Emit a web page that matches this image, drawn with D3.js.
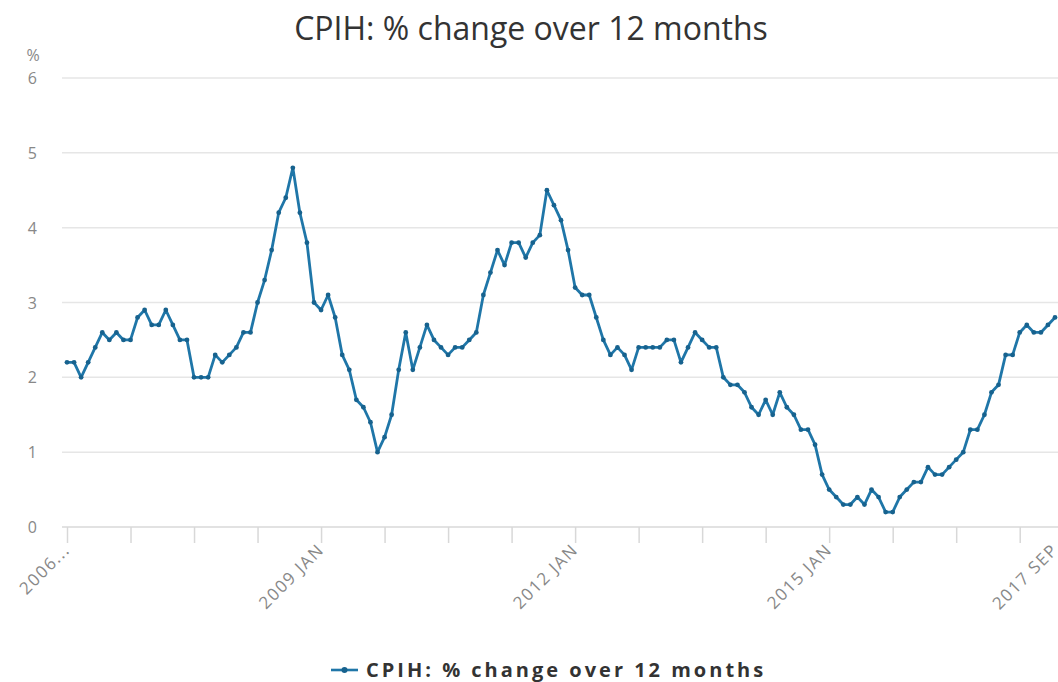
<!DOCTYPE html>
<html lang="en">
<head>
<meta charset="UTF-8">
<title>CPIH</title>
<script src="https://cdn.jsdelivr.net/npm/d3@7"></script>
<style>
    body { margin: 0; background: #fff; }
    svg { font-family: "Open Sans", "DejaVu Sans", sans-serif; }
</style>
</head>
<body>
<svg id="chart" width="1058" height="682"></svg>
<script>
    // CPIH 12-month rate, monthly from 2006 JAN to 2017 SEP
    var startYear = 2006;
    var months = ["JAN", "FEB", "MAR", "APR", "MAY", "JUN", "JUL", "AUG", "SEP", "OCT", "NOV", "DEC"];
    var values = [
        2.2, 2.2, 2.0, 2.2, 2.4, 2.6, 2.5, 2.6, 2.5, 2.5,
        2.8, 2.9, 2.7, 2.7, 2.9, 2.7, 2.5, 2.5, 2.0, 2.0,
        2.0, 2.3, 2.2, 2.3, 2.4, 2.6, 2.6, 3.0, 3.3, 3.7,
        4.2, 4.4, 4.8, 4.2, 3.8, 3.0, 2.9, 3.1, 2.8, 2.3,
        2.1, 1.7, 1.6, 1.4, 1.0, 1.2, 1.5, 2.1, 2.6, 2.1,
        2.4, 2.7, 2.5, 2.4, 2.3, 2.4, 2.4, 2.5, 2.6, 3.1,
        3.4, 3.7, 3.5, 3.8, 3.8, 3.6, 3.8, 3.9, 4.5, 4.3,
        4.1, 3.7, 3.2, 3.1, 3.1, 2.8, 2.5, 2.3, 2.4, 2.3,
        2.1, 2.4, 2.4, 2.4, 2.4, 2.5, 2.5, 2.2, 2.4, 2.6,
        2.5, 2.4, 2.4, 2.0, 1.9, 1.9, 1.8, 1.6, 1.5, 1.7,
        1.5, 1.8, 1.6, 1.5, 1.3, 1.3, 1.1, 0.7, 0.5, 0.4,
        0.3, 0.3, 0.4, 0.3, 0.5, 0.4, 0.2, 0.2, 0.4, 0.5,
        0.6, 0.6, 0.8, 0.7, 0.7, 0.8, 0.9, 1.0, 1.3, 1.3,
        1.5, 1.8, 1.9, 2.3, 2.3, 2.6, 2.7, 2.6, 2.6, 2.7, 2.8
    ];
    var yTicks = [0, 1, 2, 3, 4, 5, 6];
    var xTickIdx = [0, 9, 18, 27, 36, 45, 54, 63, 72, 81, 90, 99, 108, 117, 126, 135];
    var xLabelIdx = [0, 36, 72, 108, 140];
    var title = "CPIH: % change over 12 months";
    var seriesName = "CPIH: % change over 12 months";

    var labels = values.map(function (v, i) {
        return (startYear + Math.floor(i / 12)) + " " + months[i % 12];
    });

    var svg = d3.select("#chart");
    var blue = "#1f76a8";

    var x = d3.scaleLinear().domain([0, values.length - 1]).range([67, 1055]);
    var y = d3.scaleLinear().domain([0, 6]).range([527, 78]);

    // title
    svg.append("text")
        .attr("x", 531).attr("y", 40)
        .attr("text-anchor", "middle")
        .attr("font-size", 32)
        .attr("fill", "#333")
        .text(title);

    // grid
    svg.append("g").selectAll("line")
        .data(yTicks.filter(function (d) { return d > 0; }))
        .enter().append("line")
        .attr("x1", 62).attr("x2", 1058)
        .attr("y1", function (d) { return y(d); })
        .attr("y2", function (d) { return y(d); })
        .attr("stroke", "#e6e6e6").attr("stroke-width", 1.5);

    // y labels
    svg.append("g").selectAll("text")
        .data(yTicks)
        .enter().append("text")
        .attr("x", 37).attr("y", function (d) { return y(d) + 6; })
        .attr("text-anchor", "end")
        .attr("font-size", 16)
        .attr("fill", "#888")
        .text(function (d) { return d; });
    svg.append("text")
        .attr("x", 33).attr("y", 61)
        .attr("text-anchor", "middle")
        .attr("font-size", 16)
        .attr("fill", "#888")
        .text("%");

    // x axis
    var xAxis = d3.axisBottom(x)
        .tickValues(xTickIdx)
        .tickSize(16)
        .tickFormat("");
    var gx = svg.append("g").attr("transform", "translate(0,527)").call(xAxis);
    gx.select(".domain").attr("stroke", "#d8d8d8").attr("stroke-width", 1.5).attr("d", "M62,0H1058");
    gx.selectAll(".tick line").attr("stroke", "#d8d8d8").attr("stroke-width", 1.5);

    svg.append("g").selectAll("text")
        .data(xLabelIdx)
        .enter().append("text")
        .attr("transform", function (d) {
            return "translate(" + (x(d) + 4) + ",551) rotate(-45)";
        })
        .attr("text-anchor", "end")
        .attr("font-size", 17)
        .attr("letter-spacing", 1.5)
        .attr("fill", "#888")
        .text(function (d) { return d === 0 ? labels[d].slice(0, 4) + "..." : labels[d]; });

    // line
    var line = d3.line()
        .x(function (d, i) { return x(i); })
        .y(function (d) { return y(d); });
    svg.append("path")
        .datum(values)
        .attr("d", line)
        .attr("fill", "none")
        .attr("stroke", blue)
        .attr("stroke-width", 2.8)
        .attr("stroke-linejoin", "round");
    svg.append("g").selectAll("circle")
        .data(values)
        .enter().append("circle")
        .attr("cx", function (d, i) { return x(i); })
        .attr("cy", function (d) { return y(d); })
        .attr("r", 2.4)
        .attr("fill", "#17628e");

    // legend
    var lg = svg.append("g").attr("transform", "translate(331,670)");
    lg.append("line").attr("x1", 0).attr("x2", 27).attr("y1", 0).attr("y2", 0)
        .attr("stroke", blue).attr("stroke-width", 2.6);
    lg.append("circle").attr("cx", 13.5).attr("cy", 0).attr("r", 3).attr("fill", "#17628e");
    lg.append("text")
        .attr("x", 35).attr("y", 7)
        .attr("font-size", 20)
        .attr("font-weight", "bold")
        .attr("letter-spacing", 3)
        .attr("fill", "#333")
        .text(seriesName);
</script>
</body>
</html>
